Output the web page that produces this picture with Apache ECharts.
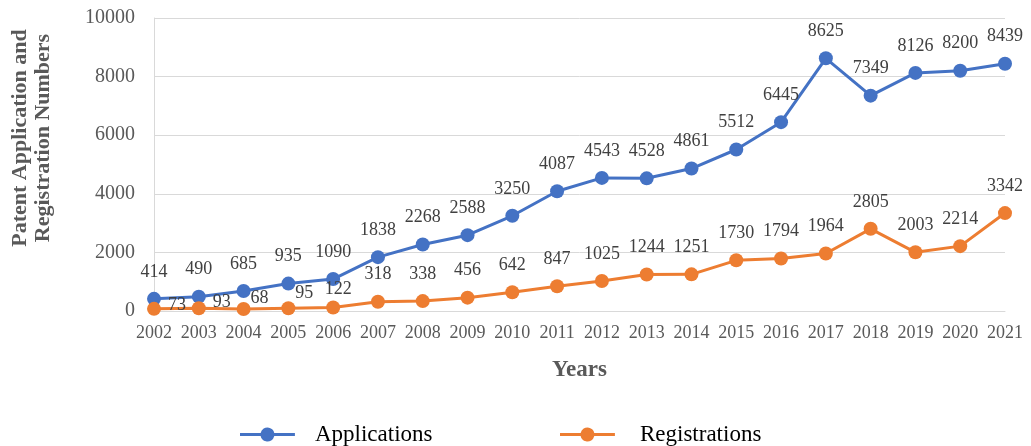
<!DOCTYPE html>
<html>
<head>
<meta charset="utf-8">
<script src="https://cdn.jsdelivr.net/npm/echarts@6/dist/echarts.min.js"></script>
<style>html,body{margin:0;padding:0;background:#fff;}#c{width:1031px;height:446px;}</style>
</head>
<body>
<div id="c"></div>
<script>
const years = ['2002','2003','2004','2005','2006','2007','2008','2009','2010','2011','2012','2013','2014','2015','2016','2017','2018','2019','2020','2021'];
const applications = [414,490,685,935,1090,1838,2268,2588,3250,4087,4543,4528,4861,5512,6445,8625,7349,8126,8200,8439];
const registrations = [73,93,68,95,122,318,338,456,642,847,1025,1244,1251,1730,1794,1964,2805,2003,2214,3342];
const yTicks = [0,2000,4000,6000,8000,10000];
const yTitle = ['Patent Application and', 'Registration Numbers'];
const xTitle = 'Years';

const FONT = '"Liberation Serif", "Times New Roman", serif';
// manual label nudges for crowded early registration labels
const regNudge = {0:[23,23],1:[23,21],2:[16,16],3:[16,12],4:[5,9]};
// legend icon: thick line with a dot in the middle
const LEGEND_ICON = 'path://M0,5.5 L20.66,5.5 A7,7 0 0,1 34.34,5.5 L55,5.5 L55,8.5 L34.34,8.5 A7,7 0 0,1 20.66,8.5 L0,8.5 Z';

const regData = registrations.map((v,i)=>{
  if (regNudge[i]) return {value:v, label:{offset:regNudge[i]}};
  return v;
});

const chart = echarts.init(document.getElementById('c'), null, {renderer:'canvas'});
chart.setOption({
  animation:false,
  backgroundColor:'#fff',
  grid:{left:154, right:26, top:18, bottom:135},
  graphic:[{
    type:'text', x:32, y:138, rotation:Math.PI/2,
    style:{text:yTitle.join('\n'), font:'bold 22px ' + FONT, fill:'#595959',
           textAlign:'center', textVerticalAlign:'middle', lineHeight:23}
  }],
  legend:[
    {data:[{name:'Applications', icon:LEGEND_ICON}], left:235, top:418, itemWidth:55, itemHeight:14, itemGap:0,
     textStyle:{fontFamily:FONT, fontSize:23, color:'#000', padding:[0,0,0,15]}},
    {data:[{name:'Registrations', icon:LEGEND_ICON}], left:555, top:418, itemWidth:55, itemHeight:14, itemGap:0,
     textStyle:{fontFamily:FONT, fontSize:23, color:'#000', padding:[0,0,0,20]}}
  ],
  xAxis:{
    type:'category', data:years, boundaryGap:false,
    name:xTitle, nameLocation:'middle', nameGap:48,
    nameTextStyle:{fontFamily:FONT, fontSize:23, fontWeight:'bold', color:'#595959'},
    axisLine:{lineStyle:{color:'#d9d9d9', width:1}},
    axisTick:{show:false},
    axisLabel:{fontFamily:FONT, fontSize:18, color:'#595959', margin:13, interval:0}
  },
  yAxis:{
    type:'value', min:yTicks[0], max:yTicks[yTicks.length-1], interval:2000,
    axisLine:{show:true, lineStyle:{color:'#d9d9d9', width:1}},
    axisTick:{show:false},
    splitLine:{lineStyle:{color:'#d9d9d9', width:1}},
    axisLabel:{fontFamily:FONT, fontSize:20, color:'#595959', margin:19,
               formatter:(v)=>String(v)}
  },
  series:[
    {name:'Applications', type:'line', data:applications,
     color:'#4472C4', symbol:'circle', symbolSize:14,
     lineStyle:{width:3, color:'#4472C4'}, itemStyle:{color:'#4472C4'},
     label:{show:true, position:'top', distance:11, fontFamily:FONT, fontSize:18, color:'#404040'}},
    {name:'Registrations', type:'line', data:regData,
     color:'#ED7D31', symbol:'circle', symbolSize:14,
     lineStyle:{width:3, color:'#ED7D31'}, itemStyle:{color:'#ED7D31'},
     label:{show:true, position:'top', distance:11, fontFamily:FONT, fontSize:18, color:'#404040'}}
  ]
});
</script>
</body>
</html>
